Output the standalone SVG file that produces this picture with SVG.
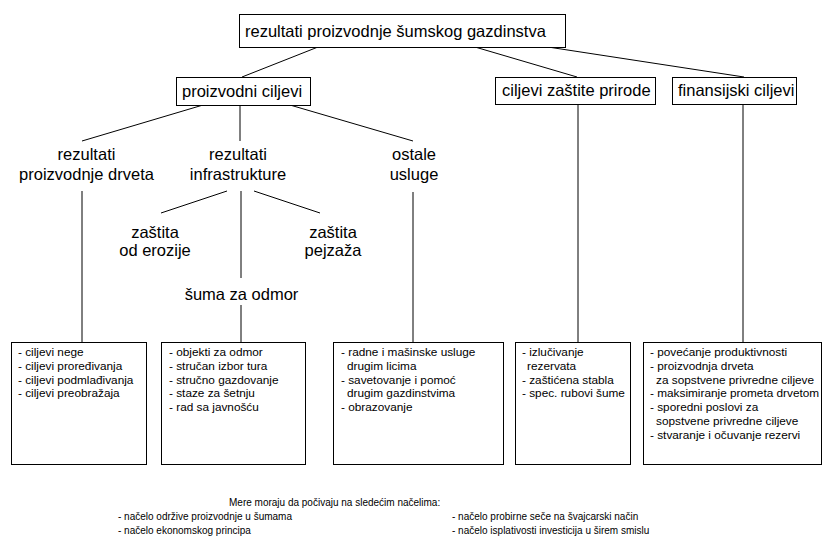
<svg xmlns="http://www.w3.org/2000/svg" width="825" height="539" viewBox="0 0 825 539">
  <style>
    .box { fill: #fff; stroke: #000; stroke-width: 1; }
    .ln { stroke: #000; stroke-width: 1; fill: none; }
    .big { font-family: "Liberation Sans", Arial, sans-serif; font-size: 16.5px; fill: #000; }
    .mid { text-anchor: middle; }
    .sm { font-family: "Liberation Sans", Arial, sans-serif; font-size: 11.8px; fill: #000; }
    .note { font-family: "Liberation Sans", Arial, sans-serif; font-size: 10px; fill: #000; }
  </style>
  <rect width="825" height="539" fill="#fff"/>

  <!-- connectors -->
  <g id="connectors" class="ln">
    <line x1="318" y1="47" x2="242" y2="77"/>
    <line x1="475" y1="47" x2="577" y2="77"/>
    <line x1="548" y1="47" x2="744" y2="77"/>
    <line x1="203" y1="105" x2="82" y2="141"/>
    <line x1="240" y1="105" x2="240" y2="141"/>
    <line x1="290" y1="105" x2="413" y2="141"/>
    <line x1="82" y1="191" x2="82" y2="342.5"/>
    <line x1="227" y1="191" x2="161" y2="213"/>
    <line x1="241" y1="191" x2="241" y2="278"/>
    <line x1="254" y1="191" x2="320" y2="213"/>
    <line x1="241" y1="305" x2="241" y2="342.5"/>
    <line x1="413" y1="192" x2="413" y2="342.5"/>
    <line x1="578" y1="105" x2="578" y2="342.5"/>
    <line x1="743" y1="105" x2="743" y2="342.5"/>
  </g>

  <!-- top node -->
  <g id="root">
    <rect class="box" x="239.5" y="14.5" width="326" height="33"/>
    <text class="big" x="245" y="37">rezultati proizvodnje šumskog gazdinstva</text>
  </g>

  <!-- second level -->
  <g id="proizvodni">
    <rect class="box" x="176.5" y="77.5" width="134" height="28"/>
    <text class="big" x="182" y="97">proizvodni ciljevi</text>
  </g>
  <g id="zastita-prirode">
    <rect class="box" x="495.5" y="77.5" width="160" height="27"/>
    <text class="big" x="502" y="96">ciljevi zaštite prirode</text>
  </g>
  <g id="finansijski">
    <rect class="box" x="672.5" y="77.5" width="124" height="27"/>
    <text class="big" x="678" y="96">finansijski ciljevi</text>
  </g>

  <!-- third level -->
  <g id="rez-drveta">
    <text class="big mid" x="86.5" y="160">rezultati</text>
    <text class="big mid" x="86.5" y="180">proizvodnje drveta</text>
  </g>
  <g id="rez-infra">
    <text class="big mid" x="238" y="160">rezultati</text>
    <text class="big mid" x="238" y="180">infrastrukture</text>
  </g>
  <g id="ostale">
    <text class="big mid" x="414" y="160">ostale</text>
    <text class="big mid" x="414" y="180">usluge</text>
  </g>
  <g id="erozija">
    <text class="big mid" x="155" y="238">zaštita</text>
    <text class="big mid" x="155" y="256">od erozije</text>
  </g>
  <g id="pejzaz">
    <text class="big mid" x="333" y="238">zaštita</text>
    <text class="big mid" x="333" y="256">pejzaža</text>
  </g>
  <g id="odmor">
    <text class="big mid" x="241.5" y="300">šuma za odmor</text>
  </g>

  <!-- detail boxes -->
  <g id="lista-drvo">
    <rect class="box" x="11.5" y="342.5" width="135" height="122"/>
    <text class="sm" x="18" y="356">
      <tspan x="18">- ciljevi nege</tspan>
      <tspan x="18" dy="13.8">- ciljevi proređivanja</tspan>
      <tspan x="18" dy="13.8">- ciljevi podmlađivanja</tspan>
      <tspan x="18" dy="13.8">- ciljevi preobražaja</tspan>
    </text>
  </g>
  <g id="lista-infra">
    <rect class="box" x="161.5" y="342.5" width="144" height="122"/>
    <text class="sm" x="169" y="356">
      <tspan x="169">- objekti za odmor</tspan>
      <tspan x="169" dy="13.8">- stručan izbor tura</tspan>
      <tspan x="169" dy="13.8">- stručno gazdovanje</tspan>
      <tspan x="169" dy="13.8">- staze za šetnju</tspan>
      <tspan x="169" dy="13.8">- rad sa javnošću</tspan>
    </text>
  </g>
  <g id="lista-usluge">
    <rect class="box" x="333.5" y="342.5" width="170" height="122"/>
    <text class="sm" x="341" y="356">
      <tspan x="341">- radne i mašinske usluge</tspan>
      <tspan x="347" dy="13.8">drugim licima</tspan>
      <tspan x="341" dy="13.8">- savetovanje i pomoć</tspan>
      <tspan x="347" dy="13.8">drugim gazdinstvima</tspan>
      <tspan x="341" dy="13.8">- obrazovanje</tspan>
    </text>
  </g>
  <g id="lista-priroda">
    <rect class="box" x="515.5" y="342.5" width="115" height="122"/>
    <text class="sm" x="522" y="356">
      <tspan x="522">- izlučivanje</tspan>
      <tspan x="527" dy="13.8">rezervata</tspan>
      <tspan x="522" dy="13.8">- zaštićena stabla</tspan>
      <tspan x="522" dy="13.8">- spec. rubovi šume</tspan>
    </text>
  </g>
  <g id="lista-finansije">
    <rect class="box" x="643.5" y="342.5" width="178" height="122"/>
    <text class="sm" x="650" y="356">
      <tspan x="650">- povećanje produktivnosti</tspan>
      <tspan x="650" dy="13.8">- proizvodnja drveta</tspan>
      <tspan x="656" dy="13.8">za sopstvene privredne ciljeve</tspan>
      <tspan x="650" dy="13.8">- maksimiranje prometa drvetom</tspan>
      <tspan x="650" dy="13.8">- sporedni poslovi za</tspan>
      <tspan x="656" dy="13.8">sopstvene privredne ciljeve</tspan>
      <tspan x="650" dy="13.8">- stvaranje i očuvanje rezervi</tspan>
    </text>
  </g>

  <!-- principles -->
  <g id="nacela">
    <text class="note" x="229" y="506">Mere moraju da počivaju na sledećim načelima:</text>
    <text class="note" x="118" y="520">- načelo održive proizvodnje u šumama</text>
    <text class="note" x="118" y="534">- načelo ekonomskog principa</text>
    <text class="note" x="452" y="520">- načelo probirne seče na švajcarski način</text>
    <text class="note" x="452" y="534">- načelo isplativosti investicija u širem smislu</text>
  </g>
</svg>
